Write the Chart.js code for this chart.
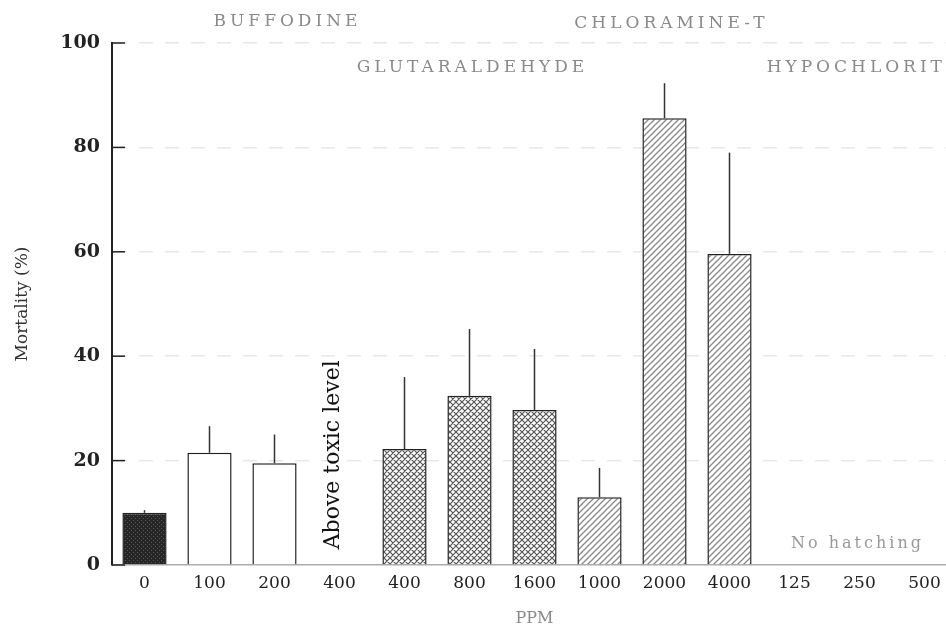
<!DOCTYPE html>
<html>
<head>
<meta charset="utf-8">
<script src="https://cdn.jsdelivr.net/npm/chart.js@4"></script>
<style>
  html, body { margin: 0; padding: 0; background: #fff; overflow: hidden; }
  #wrap { width: 960px; height: 628px; }
</style>
</head>
<body>
<div id="wrap"><canvas id="chart" width="960" height="628"></canvas></div>
<script>
// Data
const ppmLabels = ['0', '100', '200', '400', '400', '800', '1600', '1000', '2000', '4000', '125', '250', '500'];
const mortality = [10, 21.5, 19.5, null, 22.2, 32.4, 29.7, 13, 85.6, 59.6, null, null, null];
const errorUp = [0.5, 5.1, 5.5, null, 13.8, 12.8, 11.7, 5.6, 6.7, 19.4, null, null, null];
const treatment = ['control', 'buffodine', 'buffodine', 'buffodine',
    'glutaraldehyde', 'glutaraldehyde', 'glutaraldehyde',
    'chloramine', 'chloramine', 'chloramine',
    'hypochlorite', 'hypochlorite', 'hypochlorite'];
const groupNames = ['BUFFODINE', 'GLUTARALDEHYDE', 'CHLORAMINE-T', 'HYPOCHLORITE'];
const groupCenterIndex = [2, 5, 8, 11];
const yTicks = [0, 20, 40, 60, 80, 100];

// fill patterns for the bars
function makePattern(kind) {
    const c = document.createElement('canvas');
    const s = kind === 'dark' ? 4 : 6;
    c.width = s; c.height = s;
    const g = c.getContext('2d');
    if (kind === 'dark') {
        g.fillStyle = '#262626';
        g.fillRect(0, 0, s, s);
        g.fillStyle = '#555';
        g.fillRect(1, 0, 1, 1);
        g.fillRect(3, 2, 1, 1);
        return g.createPattern(c, 'repeat');
    }
    g.fillStyle = '#fff';
    g.fillRect(0, 0, s, s);
    g.lineWidth = kind === 'cross' ? 1.2 : 1.3;
    g.strokeStyle = kind === 'cross' ? '#555' : '#888';
    g.beginPath();
    g.moveTo(-1, s + 1); g.lineTo(s + 1, -1);
    g.moveTo(-1, 1); g.lineTo(1, -1);
    g.moveTo(s - 1, s + 1); g.lineTo(s + 1, s - 1);
    if (kind === 'cross') {
        g.moveTo(-1, -1); g.lineTo(s + 1, s + 1);
        g.moveTo(s - 1, -1); g.lineTo(s + 1, 1);
        g.moveTo(-1, s - 1); g.lineTo(1, s + 1);
    }
    g.stroke();
    return g.createPattern(c, 'repeat');
}

const fills = {
    control: makePattern('dark'),
    buffodine: '#fff',
    glutaraldehyde: makePattern('cross'),
    chloramine: makePattern('diag'),
    hypochlorite: '#fff'
};

// short tick marks drawn on the inside of the y axis
const insideTicks = {
    id: 'insideTicks',
    afterDraw(chart) {
        const y = chart.scales.y;
        const left = chart.chartArea.left;
        const ctx = chart.ctx;
        ctx.save();
        ctx.strokeStyle = '#222';
        ctx.lineWidth = 1.5;
        y.ticks.forEach(t => {
            const py = y.getPixelForValue(t.value);
            const len = t.value % 20 === 0 ? 13 : 5;
            ctx.beginPath();
            ctx.moveTo(left, py);
            ctx.lineTo(left + len, py);
            ctx.stroke();
        });
        ctx.restore();
    }
};

// upper error bars (single line, no cap)
const errorBars = {
    id: 'errorBars',
    afterDatasetsDraw(chart) {
        const meta = chart.getDatasetMeta(0);
        const y = chart.scales.y;
        const ctx = chart.ctx;
        ctx.save();
        ctx.strokeStyle = '#333';
        ctx.lineWidth = 1.5;
        mortality.forEach((v, i) => {
            if (v === null || errorUp[i] === null) return;
            const bar = meta.data[i];
            ctx.beginPath();
            ctx.moveTo(bar.x, bar.y);
            ctx.lineTo(bar.x, y.getPixelForValue(v + errorUp[i]));
            ctx.stroke();
        });
        ctx.restore();
    }
};

// group names and notes
const annotations = {
    id: 'annotations',
    afterDraw(chart) {
        const x = chart.scales.x;
        const y = chart.scales.y;
        const ctx = chart.ctx;
        ctx.save();
        ctx.fillStyle = '#8a8a8a';
        ctx.font = '17px "DejaVu Serif"';
        ctx.letterSpacing = '4px';
        ctx.textAlign = 'center';
        ctx.textBaseline = 'middle';
        const rows = [22, 68, 24, 68];
        const shift = [13, 3, 7, 5];
        groupNames.forEach((name, k) => {
            ctx.fillText(name, x.getPixelForValue(groupCenterIndex[k]) + shift[k], rows[k]);
        });

        ctx.fillStyle = '#999';
        ctx.font = '16px "DejaVu Serif"';
        ctx.letterSpacing = '3px';
        ctx.fillText('No hatching', x.getPixelForValue(11) - 2, y.getPixelForValue(4));

        ctx.letterSpacing = '0px';
        ctx.fillStyle = '#111';
        ctx.font = '22px "DejaVu Serif"';
        ctx.translate(x.getPixelForValue(3) - 6, y.getPixelForValue(3));
        ctx.rotate(-Math.PI / 2);
        ctx.textAlign = 'left';
        ctx.fillText('Above toxic level', 0, 0);
        ctx.restore();
    }
};

new Chart(document.getElementById('chart'), {
    type: 'bar',
    data: {
        labels: ppmLabels,
        datasets: [{
            data: mortality,
            backgroundColor: treatment.map(t => fills[t]),
            borderColor: '#222',
            borderWidth: 1.5,
            barPercentage: 0.68,
            categoryPercentage: 1
        }]
    },
    options: {
        responsive: false,
        animation: false,
        layout: { padding: { top: 43, right: 3, left: 0, bottom: 0 } },
        plugins: {
            legend: { display: false },
            tooltip: { enabled: false }
        },
        scales: {
            x: {
                grid: { display: false },
                border: { color: '#aaa', width: 1.5 },
                ticks: {
                    color: '#222',
                    font: { family: 'DejaVu Serif', size: 17 },
                    padding: 0,
                    maxRotation: 0,
                    autoSkip: false
                },
                title: {
                    display: true,
                    text: 'PPM',
                    color: '#888',
                    font: { family: 'DejaVu Serif', size: 16 },
                    padding: { top: 10, bottom: 0 }
                },
                afterFit(scale) { scale.height = 63; }
            },
            y: {
                min: 0,
                max: 100,
                ticks: {
                    stepSize: 5,
                    autoSkip: false,
                    padding: 12,
                    color: '#222',
                    font: { family: 'DejaVu Serif', size: 19, weight: 'bold' },
                    callback: v => (yTicks.includes(v) ? v : null)
                },
                grid: {
                    drawTicks: false,
                    color: ctx => (ctx.tick && ctx.tick.value % 20 === 0 && ctx.tick.value > 0)
                        ? 'rgba(0,0,0,0.09)' : 'transparent',
                    lineWidth: 1.5
                },
                border: { color: '#222', width: 2, dash: [14, 12] },
                title: {
                    display: true,
                    text: 'Mortality (%)',
                    color: '#333',
                    font: { family: 'DejaVu Serif', size: 17 },
                    padding: { top: 12, bottom: 0 }
                },
                afterFit(scale) { scale.width = 112; }
            }
        }
    },
    plugins: [insideTicks, errorBars, annotations]
});
</script>
</body>
</html>
